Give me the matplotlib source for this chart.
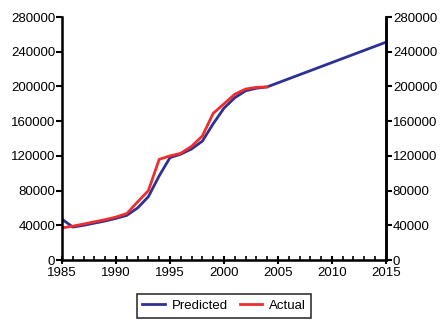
import numpy as np
import matplotlib
matplotlib.use("Agg")
import matplotlib.pyplot as plt
from matplotlib.ticker import MultipleLocator

plt.rcParams['font.family'] = ['Liberation Sans', 'DejaVu Sans']

years_pred = list(range(1985, 2005)) + [2015]
predicted = [47000, 38000, 40000, 42500, 45000, 48000, 51500, 60000, 73000, 97000,
             118000, 122000, 128000, 137000, 157000, 175000, 187000, 195000, 198000, 199500,
             251000]
years_act = list(range(1985, 2005))
actual = [37000, 39000, 41500, 44000, 46500, 49500, 53500, 67000, 80000, 116000,
          120000, 123000, 131000, 143000, 169000, 180000, 191000, 197000, 199000, 199500]

fig = plt.figure(figsize=(4.4, 3.22), dpi=100)
ax = fig.add_axes([0.141, 0.1925, 0.736, 0.7545])
ax.plot(years_pred, predicted, color='#2e3192', lw=2, label='Predicted')
ax.plot(years_act, actual, color='#ee2d2f', lw=2, label='Actual')

ax.set_xlim(1985, 2015)
ax.set_ylim(0, 280000)
ax.xaxis.set_major_locator(MultipleLocator(5))
ax.xaxis.set_minor_locator(MultipleLocator(1))
ax.yaxis.set_major_locator(MultipleLocator(40000))
ax.spines['top'].set_visible(False)
for s in ['left', 'right', 'bottom']:
    ax.spines[s].set_linewidth(1.8)
ax.tick_params(axis='x', which='major', direction='inout', length=6, width=1.5, labelsize=9.5, pad=2)
ax.tick_params(axis='x', which='minor', direction='in', length=3, width=1.2)
ax.tick_params(axis='y', direction='out', length=4, width=1.5, labelsize=9.5, pad=1)

ax2 = ax.twinx()
ax2.set_ylim(0, 280000)
ax2.yaxis.set_major_locator(MultipleLocator(40000))
ax2.spines['top'].set_visible(False)
ax2.spines['right'].set_linewidth(1.8)
ax2.tick_params(axis='y', direction='out', length=4, width=1.5, labelsize=9.5, pad=1)

leg = fig.legend(loc='center', bbox_to_anchor=(0.509, 0.05), ncol=2, fontsize=9.5,
                 frameon=True, fancybox=False, edgecolor='black', handlelength=1.7,
                 borderpad=0.45, columnspacing=0.9, handletextpad=0.5, borderaxespad=0)
leg.get_frame().set_linewidth(1.2)

fig.savefig('out.png', dpi=100)
